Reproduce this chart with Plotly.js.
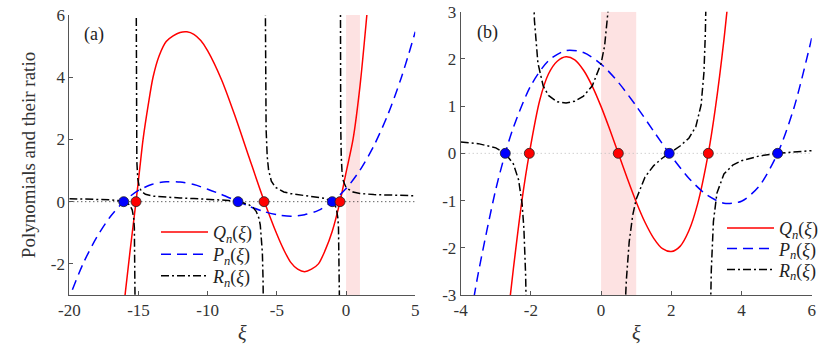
<!DOCTYPE html>
<html>
<head>
<meta charset="utf-8">
<script src="https://cdn.plot.ly/plotly-3.0.1.min.js"></script>
<style>html,body{margin:0;padding:0;background:#fff;}#chart{width:830px;height:348px;}</style>
</head>
<body>
<div id="chart"></div>
<script>
// ---------- Panel (a) data ----------
const qAx = [-16.1, -15.6, -15.18, -14.9, -14.67, -14.3, -13.95, -13.5, -13, -12.5, -12, -11.5, -11, -10.5, -10, -9, -8, -7, -6, -5, -4.5, -4, -3.5, -3, -2.5, -2, -1.5, -1, -0.44, 0, 0.5, 1, 1.5, 1.7];
const qAy = [-3.5, -1.55, 0, 1.1, 2.0, 3.1, 4.0, 4.7, 5.15, 5.33, 5.44, 5.46, 5.38, 5.18, 4.85, 3.92, 2.72, 1.41, 0.12, -1.05, -1.55, -1.95, -2.17, -2.25, -2.17, -2.0, -1.55, -0.95, 0, 0.94, 2.0, 3.7, 6.0, 7.0];
const pAx = [-20.2, -19, -18, -17, -16, -15, -14, -13, -12, -11, -10, -9, -8, -7, -6, -5, -4, -3, -2, -1, 0, 1, 2, 3, 4, 5];
const pAy = [-3.31, -1.99, -1.13, -0.46, 0.03, 0.36, 0.56, 0.64, 0.63, 0.55, 0.40, 0.23, 0.04, -0.15, -0.31, -0.42, -0.47, -0.42, -0.28, 0, 0.42, 1.01, 1.79, 2.78, 4.00, 5.46];
const rAx = [-20, -19, -18, -17, -16.5, -16.07, -15.8, -15.6, -15.45, -15.35, -15.3, -15.25, -15.23, -15.22, null,
  -15.19, -15.18, -15.16, -15.12, -15.05, -14.95, -14.8, -14.5, -14, -13, -12, -11, -10, -9, -8.5, -7.81, -7.5, -7, -6.7, -6.5, -6.3, -6.2, -6.1, -6.05, -6.0, -5.96, null,
  -5.87, -5.85, -5.82, -5.78, -5.7, -5.6, -5.4, -5.1, -4.5, -4, -3, -2, -1.5, -1, -0.8, -0.7, -0.6, -0.55, -0.5, -0.48, -0.47, null,
  -0.43, -0.42, -0.41, -0.39, -0.35, -0.3, -0.2, 0, 0.5, 1, 2, 3, 4, 5];
const rAy = [0.097, 0.0905, 0.0796, 0.0585, 0.037, 0, -0.0496, -0.129, -0.27, -0.52, -0.836, -1.78, -3.03, -4.6, null,
  9.5, 4.81, 2.46, 1.28, 0.733, 0.481, 0.339, 0.237, 0.179, 0.138, 0.118, 0.101, 0.083, 0.058, 0.0395, 0, -0.0281, -0.1055, -0.197, -0.309, -0.531, -0.753, -1.196, -1.64, -2.52, -4.3, null,
  8.98, 5.44, 3.45, 2.34, 1.457, 1.014, 0.659, 0.458, 0.312, 0.258, 0.196, 0.144, 0.102, 0, -0.115, -0.237, -0.51, -0.833, -1.69, -2.64, -3.58, null,
  11.5, 5.86, 3.98, 2.46, 1.456, 1.005, 0.667, 0.45, 0.31, 0.265, 0.227, 0.21, 0.199, 0.19];
const rootsQa = [-15.18, -5.93, -0.44];
const rootsPa = [-16.07, -7.81, -1.0];
const bandA = [0, 1];
const xRangeA = [-20, 5], yRangeA = [-3, 6];
const xTicksA = [-20, -15, -10, -5, 0, 5];
const yTicksA = [-2, 0, 2, 4, 6];

// ---------- Panel (b) data ----------
const qBx = [-2.7, -2.5, -2.25, -2.045, -1.75, -1.5, -1.25, -1, -0.75, -0.5, -0.25, 0, 0.25, 0.49, 0.75, 1, 1.25, 1.5, 1.75, 2, 2.25, 2.5, 2.75, 3.054, 3.25, 3.5, 3.7];
const qBy = [-3.75, -2.45, -0.97, 0, 1.12, 1.68, 1.95, 2.045, 1.98, 1.76, 1.42, 0.99, 0.50, 0, -0.54, -1.03, -1.46, -1.80, -2.02, -2.08, -1.97, -1.64, -1.07, 0, 0.93, 2.41, 3.86];
const pBx = [-3.7, -3.5, -3, -2.73, -2.5, -2, -1.5, -1, -0.5, 0, 0.5, 1, 1.5, 1.94, 2.5, 3, 3.5, 4, 4.5, 5.03, 5.5, 6];
const pBy = [-3.39, -2.54, -0.76, 0, 0.546, 1.436, 1.962, 2.178, 2.136, 1.891, 1.496, 1.003, 0.466, 0, -0.526, -0.875, -1.056, -1.014, -0.697, 0, 0.978, 2.44];
const rBx = [-4, -3.5, -3, -2.73, -2.5, -2.35, -2.25, -2.2, -2.15, -2.12, null,
  -1.98, -1.95, -1.9, -1.8, -1.65, -1.5, -1.25, -1, -0.75, -0.5, -0.25, 0, 0.1, 0.2, 0.25, 0.3, null,
  0.68, 0.7, 0.72, 0.8, 0.9, 1, 1.25, 1.5, 1.75, 1.94, 2.25, 2.5, 2.7, 2.85, 2.93, 2.97, 2.99, null,
  3.12, 3.14, 3.2, 3.3, 3.5, 3.75, 4, 4.5, 5.03, 5.5, 6];
const rBy = [0.241, 0.2057, 0.1163, 0, -0.223, -0.563, -1.077, -1.586, -2.587, -3.83, null,
  5.59, 4.0, 2.82, 1.912, 1.427, 1.226, 1.091, 1.065, 1.104, 1.213, 1.432, 1.907, 2.276, 2.90, 3.41, 4.2, null,
  -3.33, -2.97, -2.68, -1.876, -1.313, -0.971, -0.503, -0.259, -0.098, 0, 0.155, 0.321, 0.568, 1.029, 1.713, 2.54, 3.33, null,
  -3.22, -2.47, -1.443, -0.841, -0.438, -0.25, -0.156, -0.0566, 0, 0.0326, 0.0577];
const rootsQb = [-2.045, 0.49, 3.054];
const rootsPb = [-2.73, 1.94, 5.03];
const bandB = [0, 1];
const xRangeB = [-4, 6], yRangeB = [-3, 3];
const xTicksB = [-4, -2, 0, 2, 4, 6];
const yTicksB = [-3, -2, -1, 0, 1, 2, 3];

const names = ['<i>Q<sub>n</sub></i>(<i>ξ</i>)', '<i>P<sub>n</sub></i>(<i>ξ</i>)', '<i>R<sub>n</sub></i>(<i>ξ</i>)'];

// ---------- font: pick an installed Times-like serif ----------
function pickFont(cands) {
  const ctx = document.createElement('canvas').getContext('2d');
  const s = 'Polynomials and their ratio 0123456789';
  ctx.font = '20px monospace';
  const base = ctx.measureText(s).width;
  for (const f of cands) {
    ctx.font = '20px "' + f + '", monospace';
    if (Math.abs(ctx.measureText(s).width - base) > 0.5) return f;
  }
  return 'serif';
}
const SERIF_NAME = pickFont(['Liberation Serif', 'Times New Roman', 'Tinos', 'Nimbus Roman', 'Nimbus Roman No9 L', 'FreeSerif', 'DejaVu Serif']);
const SERIF = '"' + SERIF_NAME + '", serif';

const RED = '#ff0000', BLUE = '#0000ff', BLACK = '#000000';
const dashP = '10px,6px';
const dashR = '8px,3px,2px,3px';

function panelTraces(xa, ya, legIds, q, p, r, rq, rp, zeroColor, xr) {
  return [
    {x: xr, y: xr.map(() => 0), xaxis: xa, yaxis: ya, mode: 'lines', showlegend: false, hoverinfo: 'skip',
     line: {color: zeroColor, width: 1, dash: '1px,3px'}},
    {x: q[0], y: q[1], xaxis: xa, yaxis: ya, mode: 'lines', name: names[0], legend: legIds[0],
     line: {color: RED, width: 1.5, shape: 'spline', smoothing: 0.8}},
    {x: p[0], y: p[1], xaxis: xa, yaxis: ya, mode: 'lines', name: names[1], legend: legIds[1],
     line: {color: BLUE, width: 1.5, dash: dashP, shape: 'spline', smoothing: 0.8}},
    {x: r[0], y: r[1], xaxis: xa, yaxis: ya, mode: 'lines', name: names[2], legend: legIds[2], connectgaps: false,
     line: {color: BLACK, width: 1.5, dash: dashR}},
    {x: rp, y: rp.map(() => 0), xaxis: xa, yaxis: ya, mode: 'markers', showlegend: false,
     marker: {color: BLUE, size: 10, line: {color: '#222', width: 0.8}}},
    {x: rq, y: rq.map(() => 0), xaxis: xa, yaxis: ya, mode: 'markers', showlegend: false,
     marker: {color: RED, size: 10, line: {color: '#222', width: 0.8}}}
  ];
}

const data = [].concat(
  panelTraces('x', 'y', ['legend', 'legend2', 'legend3'], [qAx, qAy], [pAx, pAy], [rAx, rAy], rootsQa, rootsPa, '#222', xRangeA),
  panelTraces('x2', 'y2', ['legend4', 'legend5', 'legend6'], [qBx, qBy], [pBx, pBy], [rBx, rBy], rootsQb, rootsPb, '#bbbbbb', xRangeB)
);

function axis(domain, range, ticks, anchor, extra) {
  return Object.assign({
    domain: domain, range: range, anchor: anchor,
    tickmode: 'array', tickvals: ticks, ticktext: ticks.map(String),
    showgrid: false, zeroline: false, showline: true, linecolor: '#555', linewidth: 1,
    ticks: 'inside', ticklen: 4, tickcolor: '#555', mirror: false,
    tickfont: {family: SERIF, size: 17, color: '#333'}, automargin: false
  }, extra || {});
}

const W = 830, H = 348;
function leg(xpx, ypx) {
  return {x: xpx / W, y: 1 - ypx / H, xanchor: 'left', yanchor: 'top', bgcolor: 'rgba(255,255,255,0)',
    borderwidth: 0, font: {family: SERIF, size: 18, color: '#222'}, itemwidth: 47};
}
const LEG_OFF = 18;
const layout = {
  width: W, height: H,
  margin: {l: 0, r: 0, t: 0, b: 0},
  paper_bgcolor: '#ffffff', plot_bgcolor: '#ffffff',
  font: {family: SERIF},
  showlegend: true,
  xaxis: axis([69.3 / W, 415.3 / W], xRangeA, xTicksA, 'y',
    {title: {text: '<i>ξ</i>', font: {family: SERIF, size: 20, color: '#333'}, standoff: 6}}),
  yaxis: axis([1 - 295 / H, 1 - 15 / H], yRangeA, yTicksA, 'x',
    {title: {text: 'Polynomials and their ratio', font: {family: SERIF, size: 19, color: '#333'}, standoff: 10}}),
  xaxis2: axis([460.7 / W, 811.7 / W], xRangeB, xTicksB, 'y2',
    {title: {text: '<i>ξ</i>', font: {family: SERIF, size: 20, color: '#333'}, standoff: 6}}),
  yaxis2: axis([1 - 295 / H, 1 - 11.7 / H], yRangeB, yTicksB, 'x2'),
  legend: leg(156, 231.7 - LEG_OFF),
  legend2: leg(156, 254 - LEG_OFF),
  legend3: leg(156, 275.5 - LEG_OFF),
  legend4: leg(722, 227.7 - LEG_OFF),
  legend5: leg(722, 248.3 - LEG_OFF),
  legend6: leg(722, 269.3 - LEG_OFF),
  shapes: [
    {type: 'rect', xref: 'x', yref: 'y', x0: bandA[0], x1: bandA[1], y0: yRangeA[0], y1: yRangeA[1],
     fillcolor: '#fde2e2', line: {width: 0}, layer: 'below'},
    {type: 'rect', xref: 'x2', yref: 'y2', x0: bandB[0], x1: bandB[1], y0: yRangeB[0], y1: yRangeB[1],
     fillcolor: '#fde2e2', line: {width: 0}, layer: 'below'}
  ],
  annotations: [
    {text: '(a)', xref: 'paper', yref: 'paper', x: 94 / W, y: 1 - 35 / H, xanchor: 'center', yanchor: 'middle',
     showarrow: false, font: {family: SERIF, size: 18, color: '#222'}},
    {text: '(b)', xref: 'paper', yref: 'paper', x: 487 / W, y: 1 - 32 / H, xanchor: 'center', yanchor: 'middle',
     showarrow: false, font: {family: SERIF, size: 18, color: '#222'}}
  ]
};

Plotly.newPlot('chart', data, layout, {displayModeBar: false, staticPlot: true});
</script>
</body>
</html>
